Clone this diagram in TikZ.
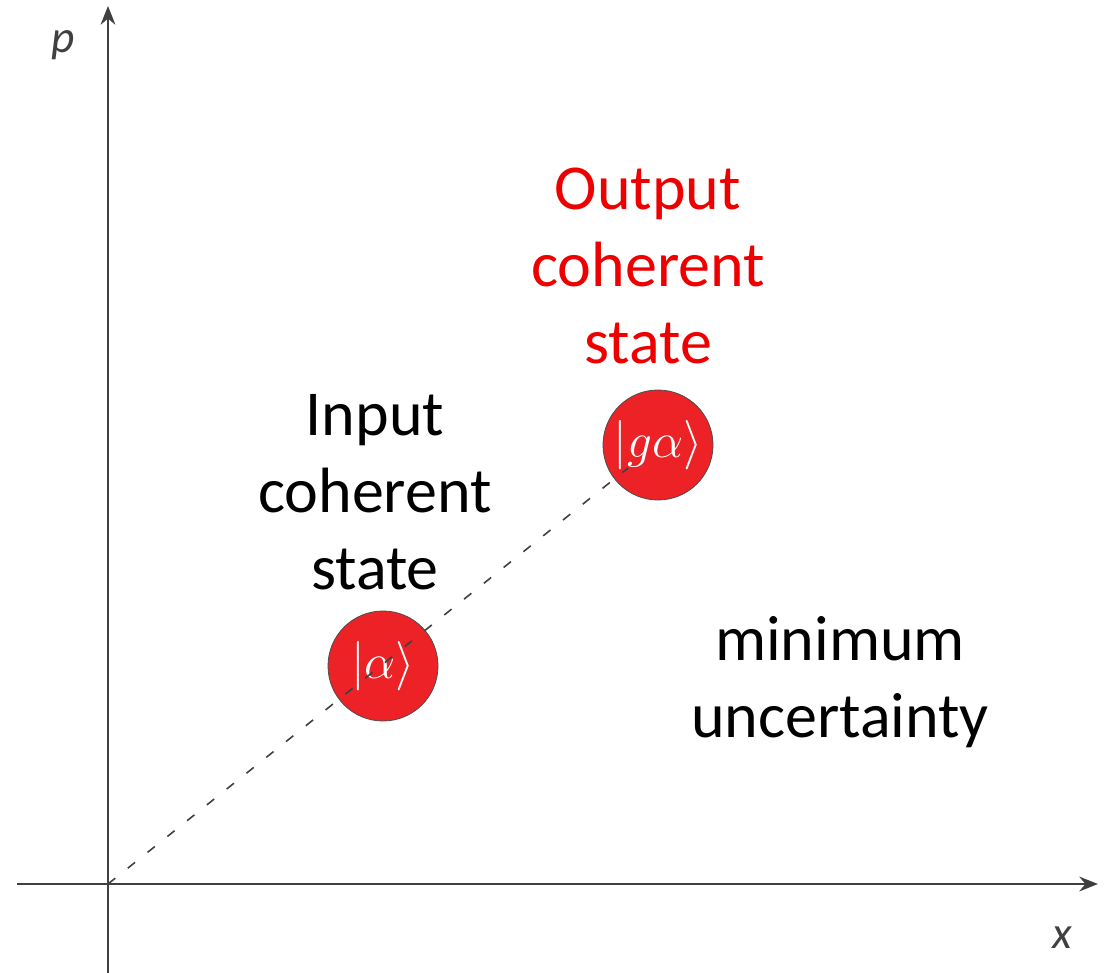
\RequirePackage{fix-cm}
\documentclass[tikz,border=0pt]{standalone}
\usepackage{fontspec}
\setmainfont{Carlito}
\usetikzlibrary{arrows.meta}
\definecolor{statered}{RGB}{236,34,39}
\definecolor{outred}{RGB}{238,0,0}
\definecolor{axisgray}{RGB}{64,64,64}
\begin{document}
\begin{tikzpicture}[x=0.75pt,y=-0.75pt,
  axis/.style={axisgray, line width=2pt, -{Stealth[length=14pt,width=11pt]}},
  cstate/.style={circle, fill=statered, draw=black!70, line width=0.6pt, minimum size=82.5pt, inner sep=0pt, text=white, font=\fontsize{37}{43}\selectfont},
  textblock/.style={align=center, font=\fontsize{48}{57.75}\selectfont},
  axislabel/.style={text=axisgray, font=\fontsize{34}{40}\selectfont\itshape}]
\useasboundingbox (0,0) rectangle (1109,973);

% Draw the axes
\coordinate (o) at (108,884);
\coordinate (xl) at (17,884);
\coordinate (xr) at (1098,884);
\coordinate (pb) at (108,973);
\coordinate (pt) at (108,6);
\draw[axis] (xl) -- (xr);
\draw[axis] (pb) -- (pt);
\node[axislabel] (plab) at (63,45) {p};
\node[axislabel] (xlab) at (1062,938) {x};

% Coherent states
\node[cstate] (alpha) at (383,666) {$|\alpha\rangle$};
\node[cstate] (galpha) at (658,445) {$|g\alpha\rangle$};

% Dashed line from the origin
\coordinate (dend) at (628,468);
\draw[axisgray, line width=1.2pt, dash pattern=on 7pt off 12pt] (o) -- (dend);

% Add labels
\node[textblock] (intext) at (375,492) {Input\\coherent\\state};
\node[textblock, text=outred] (outtext) at (648,266) {Output\\coherent\\state};
\node[textblock] (mintext) at (840,682) {minimum\\uncertainty};
\end{tikzpicture}
\end{document}
